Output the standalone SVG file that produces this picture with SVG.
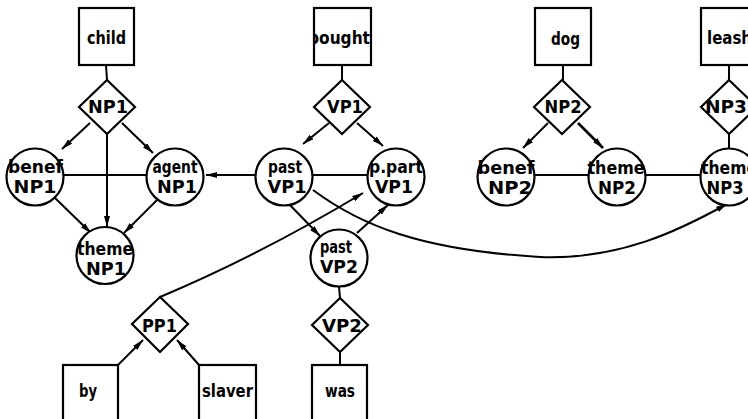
<svg xmlns="http://www.w3.org/2000/svg" width="748" height="419" viewBox="0 0 748 419">
<style>
  .box, .dia, .cir { fill: #fff; stroke: #000; stroke-width: 2.2; }
  .t { font-family: "DejaVu Sans", "Liberation Sans", sans-serif; font-weight: bold; font-size: 17px; fill: #000; text-anchor: middle; }
  .ln { fill: none; stroke: #000; stroke-width: 2; }
  .ar { fill: none; stroke: #000; stroke-width: 2; marker-end: url(#arr); }
</style>
<defs>
  <marker id="arr" viewBox="0 0 11 6" refX="11" refY="3" markerWidth="11" markerHeight="6" orient="auto" markerUnits="userSpaceOnUse">
    <path d="M0,0 L11,3 L0,6 z" fill="#000"/>
  </marker>
  <clipPath id="clipBought"><rect x="315" y="9" width="55" height="55"/></clipPath>
</defs>
<rect width="748" height="419" fill="#fff"/>

<g id="connectors">
  <!-- stems -->
  <line class="ln" x1="106" y1="65" x2="107" y2="80"/>
  <line class="ln" x1="342" y1="65" x2="342" y2="80"/>
  <line class="ln" x1="563" y1="65" x2="563" y2="80"/>
  <line class="ln" x1="729" y1="65" x2="729" y2="80"/>
  <line class="ln" x1="729" y1="134" x2="729" y2="148.5"/>
  <line class="ln" x1="339" y1="286.5" x2="340" y2="298"/>
  <line class="ln" x1="340" y1="352" x2="340" y2="365"/>
  <!-- horizontal links -->
  <line class="ln" x1="63.5" y1="175" x2="146.5" y2="175"/>
  <line class="ln" x1="312.5" y1="175" x2="367.5" y2="175"/>
  <line class="ln" x1="534.5" y1="175" x2="588.5" y2="175"/>
  <line class="ln" x1="645.5" y1="175" x2="700.5" y2="175"/>
  <!-- arrows -->
  <line class="ar" x1="90" y1="123" x2="62" y2="149"/>
  <line class="ar" x1="122" y1="123" x2="153" y2="153"/>
  <line class="ar" x1="107" y1="134" x2="107" y2="227"/>
  <line class="ar" x1="55" y1="198" x2="91" y2="233"/>
  <line class="ar" x1="159" y1="198" x2="124" y2="233"/>
  <line class="ar" x1="255.5" y1="175" x2="206" y2="175"/>
  <line class="ar" x1="329" y1="123" x2="303" y2="144"/>
  <line class="ar" x1="357" y1="123" x2="383" y2="146"/>
  <line class="ar" x1="548" y1="123" x2="523" y2="148"/>
  <line class="ar" x1="578" y1="123" x2="603" y2="148" style="stroke-width:2.6"/>
  <line class="ar" x1="288" y1="203" x2="320" y2="236"/>
  <line class="ar" x1="357" y1="233" x2="388" y2="205"/>
  <path class="ar" d="M160,297 Q260,255 363,193"/>
  <path class="ar" d="M313,190 C360,225 420,250 540,257 C620,260 680,230 727,204"/>
  <line class="ar" x1="118" y1="365" x2="143" y2="340"/>
  <line class="ar" x1="199" y1="365" x2="177" y2="340"/>
</g>

<!-- word boxes -->
<g id="child"><rect class="box" x="79" y="8" width="55" height="57"/><text class="t" x="106.5" y="44" textLength="39" lengthAdjust="spacingAndGlyphs">child</text></g>
<g id="bought"><rect class="box" x="314" y="8" width="57" height="57"/><text class="t" x="339" y="44" textLength="62" lengthAdjust="spacingAndGlyphs" clip-path="url(#clipBought)">bought</text></g>
<g id="dog"><rect class="box" x="535" y="8" width="56" height="57"/><text class="t" x="565.5" y="45" textLength="29" lengthAdjust="spacingAndGlyphs">dog</text></g>
<g id="leash"><rect class="box" x="701" y="8" width="56" height="57"/><text class="t" x="729.5" y="44" textLength="45" lengthAdjust="spacingAndGlyphs">leash</text></g>
<g id="by"><rect class="box" x="63" y="365" width="55" height="60"/><text class="t" x="88" y="397" textLength="18" lengthAdjust="spacingAndGlyphs">by</text></g>
<g id="slaver"><rect class="box" x="199" y="365" width="57" height="60"/><text class="t" x="227.5" y="397" textLength="51" lengthAdjust="spacingAndGlyphs">slaver</text></g>
<g id="was"><rect class="box" x="312" y="365" width="55" height="60"/><text class="t" x="340" y="397" textLength="30" lengthAdjust="spacingAndGlyphs">was</text></g>

<!-- phrase diamonds -->
<g id="NP1"><polygon class="dia" points="107,80 135,107 107,134 79,107"/><text class="t" x="108" y="113" textLength="40" lengthAdjust="spacingAndGlyphs">NP1</text></g>
<g id="VP1"><polygon class="dia" points="342,80 370,107 342,134 314,107"/><text class="t" x="345" y="113" textLength="36" lengthAdjust="spacingAndGlyphs">VP1</text></g>
<g id="NP2"><polygon class="dia" points="562,80 590,107 562,134 534,107"/><text class="t" x="563" y="113" textLength="37" lengthAdjust="spacingAndGlyphs">NP2</text></g>
<g id="NP3"><polygon class="dia" points="729,80 757,107 729,134 701,107"/><text class="t" x="726" y="113" textLength="42" lengthAdjust="spacingAndGlyphs">NP3</text></g>
<g id="PP1"><polygon class="dia" points="160,297 188,324 160,352 132,324"/><text class="t" x="159.5" y="332" textLength="35" lengthAdjust="spacingAndGlyphs">PP1</text></g>
<g id="VP2"><polygon class="dia" points="340,298 368,325 340,352 312,325"/><text class="t" x="342" y="332" textLength="40" lengthAdjust="spacingAndGlyphs">VP2</text></g>

<!-- role circles -->
<g id="benefNP1"><circle class="cir" cx="35" cy="177" r="28.5"/><text class="t" x="35.5" y="173" textLength="55" lengthAdjust="spacingAndGlyphs">benef</text><text class="t" x="35" y="193" textLength="43" lengthAdjust="spacingAndGlyphs">NP1</text></g>
<g id="agentNP1"><circle class="cir" cx="175" cy="177" r="28.5"/><text class="t" x="175" y="173" textLength="45" lengthAdjust="spacingAndGlyphs">agent</text><text class="t" x="177" y="193" textLength="40" lengthAdjust="spacingAndGlyphs">NP1</text></g>
<g id="themeNP1"><circle class="cir" cx="105" cy="255.5" r="28.5"/><text class="t" x="105" y="255" textLength="56" lengthAdjust="spacingAndGlyphs">theme</text><text class="t" x="106" y="275" textLength="40" lengthAdjust="spacingAndGlyphs">NP1</text></g>
<g id="pastVP1"><circle class="cir" cx="284" cy="177" r="28.5"/><text class="t" x="285" y="173" textLength="34" lengthAdjust="spacingAndGlyphs">past</text><text class="t" x="287" y="193" textLength="39" lengthAdjust="spacingAndGlyphs">VP1</text></g>
<g id="ppartVP1"><circle class="cir" cx="396" cy="177" r="28.5"/><text class="t" x="396" y="173" textLength="54" lengthAdjust="spacingAndGlyphs">p.part</text><text class="t" x="394" y="193" textLength="38" lengthAdjust="spacingAndGlyphs">VP1</text></g>
<g id="pastVP2"><circle class="cir" cx="339" cy="258" r="28.5"/><text class="t" x="336" y="253" textLength="32" lengthAdjust="spacingAndGlyphs">past</text><text class="t" x="339" y="273" textLength="38" lengthAdjust="spacingAndGlyphs">VP2</text></g>
<g id="benefNP2"><circle class="cir" cx="506" cy="177" r="28.5"/><text class="t" x="506" y="174" textLength="57" lengthAdjust="spacingAndGlyphs">benef</text><text class="t" x="510" y="194" textLength="44" lengthAdjust="spacingAndGlyphs">NP2</text></g>
<g id="themeNP2"><circle class="cir" cx="617" cy="177" r="28.5"/><text class="t" x="616" y="174" textLength="57" lengthAdjust="spacingAndGlyphs">theme</text><text class="t" x="617" y="194" textLength="38" lengthAdjust="spacingAndGlyphs">NP2</text></g>
<g id="themeNP3"><circle class="cir" cx="729" cy="177" r="28.5"/><text class="t" x="729" y="174" textLength="56" lengthAdjust="spacingAndGlyphs">theme</text><text class="t" x="725" y="194" textLength="37" lengthAdjust="spacingAndGlyphs">NP3</text></g>
</svg>
